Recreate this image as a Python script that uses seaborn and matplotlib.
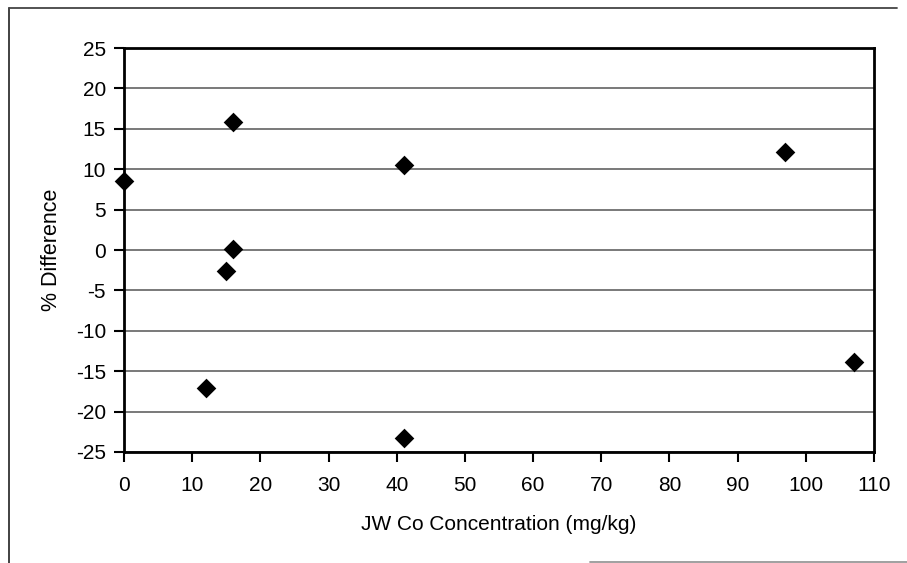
import matplotlib
matplotlib.use("Agg")
import matplotlib.pyplot as plt
import seaborn as sns
import pandas as pd
from matplotlib.lines import Line2D

concentration = [0, 16, 16, 15, 12, 41, 41, 97, 107]
pct_difference = [8.6, 15.8, 0.1, -2.6, -17.1, 10.5, -23.3, 12.1, -13.9]
x_ticks = list(range(0, 111, 10))
y_ticks = list(range(-25, 26, 5))

df = pd.DataFrame({"JW Co Concentration (mg/kg)": concentration,
                   "% Difference": pct_difference})

sns.set_theme(style="white")
plt.rcParams['font.family'] = ['Liberation Sans', 'DejaVu Sans']
plt.rcParams['axes.unicode_minus'] = False

fig = plt.figure(figsize=(9.07, 5.63), dpi=100)
ax = fig.add_axes([0.1367, 0.1972, 0.9636 - 0.1367, 0.9147 - 0.1972])

for y in y_ticks:
    ax.axhline(y, color="#555555", lw=1.1, zorder=1)

sns.scatterplot(data=df, x="JW Co Concentration (mg/kg)", y="% Difference",
                marker="D", s=100, color="black", edgecolor="black",
                linewidth=0, ax=ax, zorder=3, clip_on=False)

ax.set_xlim(0, 110)
ax.set_ylim(-25, 25)
ax.set_xticks(x_ticks)
ax.set_yticks(y_ticks)
ax.tick_params(axis="both", direction="out", length=7, width=1.5,
               color="black", labelsize=15, bottom=True, left=True,
               labelcolor="black")
ax.tick_params(axis="x", pad=10)
ax.tick_params(axis="y", pad=6)
for s in ax.spines.values():
    s.set_color("black")
    s.set_linewidth(2)
    s.set_visible(True)
ax.set_xlabel("JW Co Concentration (mg/kg)", fontsize=15, labelpad=15, color="black")
ax.set_ylabel("% Difference", fontsize=15.5, labelpad=10, color="black")

# outer chart frame
fig.add_artist(Line2D([9/907, 9/907], [0, 1 - 8/563], transform=fig.transFigure,
                      color="#333333", lw=1.3))
fig.add_artist(Line2D([9/907, 897/907], [1 - 8/563, 1 - 8/563], transform=fig.transFigure,
                      color="#444444", lw=1.3))
fig.add_artist(Line2D([590/907, 1.0], [1.5/563, 1.5/563], transform=fig.transFigure,
                      color="#999999", lw=1.3))

fig.savefig("out.png", dpi=100)
